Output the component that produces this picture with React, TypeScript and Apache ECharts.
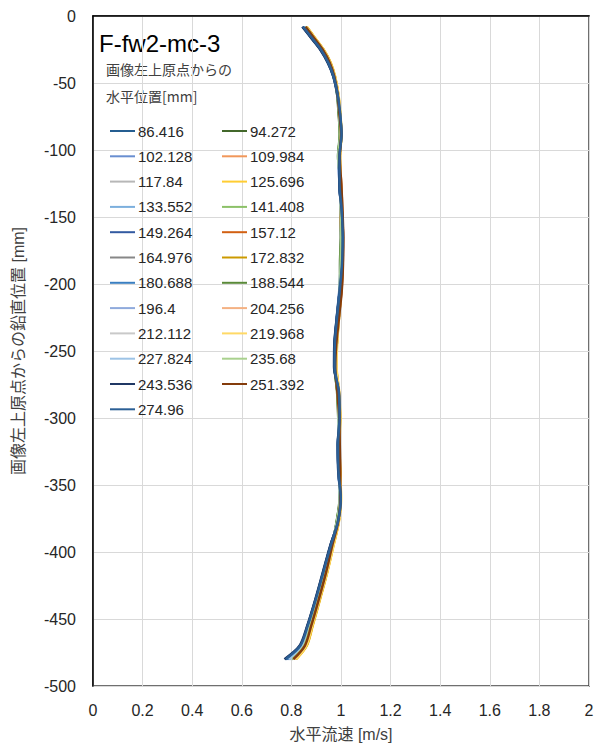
import React, { useEffect, useRef } from "react";
import * as echarts from "echarts";

const depths = [-8, -16, -25, -35, -45, -58, -72, -88, -105, -125, -145, -165, -185, -205, -225, -245, -262, -280, -300, -320, -340, -360, -378, -395, -415, -435, -455, -470, -480];

const seriesNames = ["86.416", "94.272", "102.128", "109.984", "117.84", "125.696", "133.552", "141.408", "149.264", "157.12", "164.976", "172.832", "180.688", "188.544", "196.4", "204.256", "212.112", "219.968", "227.824", "235.68", "243.536", "251.392", "274.96"];

const seriesColors = ["#255E91", "#43682B", "#698ED0", "#F1975A", "#B7B7B7", "#FFCD33", "#7CAFDD", "#8CC168", "#335AA1", "#D26012", "#878787", "#CC9A00", "#3A7FC1", "#5A8A39", "#8FAADC", "#F4B183", "#C9C9C9", "#FFD966", "#9DC3E6", "#A9D18E", "#203864", "#843C0C", "#2B5F95"];

const s86 = [0.846, 0.880, 0.918, 0.948, 0.969, 0.984, 0.994, 1.001, 0.994, 0.993, 1.003, 1.008, 1.005, 0.994, 0.983, 0.974, 0.973, 0.991, 0.994, 0.987, 0.990, 0.999, 0.987, 0.958, 0.928, 0.898, 0.865, 0.835, 0.775];
const s94 = [0.856, 0.888, 0.925, 0.954, 0.973, 0.984, 0.990, 0.995, 0.988, 0.999, 0.998, 0.999, 0.996, 0.997, 0.991, 0.983, 0.975, 0.984, 0.989, 0.993, 0.994, 0.994, 0.982, 0.964, 0.939, 0.909, 0.877, 0.852, 0.802];
const s102 = [0.849, 0.883, 0.920, 0.951, 0.973, 0.988, 0.996, 1.000, 0.989, 0.994, 1.002, 1.005, 0.999, 0.993, 0.983, 0.978, 0.980, 0.990, 0.993, 0.988, 0.989, 0.998, 0.985, 0.960, 0.932, 0.902, 0.870, 0.840, 0.786];
const s109 = [0.860, 0.892, 0.928, 0.957, 0.975, 0.988, 0.995, 1.001, 0.996, 0.998, 0.998, 1.002, 1.006, 1.001, 0.991, 0.983, 0.981, 0.991, 0.996, 0.992, 0.996, 0.999, 0.990, 0.968, 0.943, 0.914, 0.884, 0.860, 0.815];
const s117 = [0.853, 0.886, 0.923, 0.952, 0.972, 0.986, 0.992, 0.997, 0.992, 0.995, 1.000, 1.003, 1.002, 0.998, 0.988, 0.980, 0.978, 0.987, 0.990, 0.991, 0.992, 0.995, 0.985, 0.964, 0.936, 0.906, 0.874, 0.848, 0.798];
const s125 = [0.862, 0.894, 0.930, 0.959, 0.976, 0.989, 0.997, 1.002, 0.996, 0.999, 1.001, 1.002, 1.001, 1.000, 0.992, 0.984, 0.982, 0.992, 0.997, 0.994, 0.997, 1.000, 0.991, 0.970, 0.945, 0.916, 0.886, 0.862, 0.820];
const s133 = [0.851, 0.884, 0.921, 0.951, 0.971, 0.985, 0.993, 0.998, 0.991, 0.996, 1.000, 1.003, 1.001, 0.996, 0.986, 0.978, 0.977, 0.988, 0.991, 0.990, 0.991, 0.996, 0.984, 0.962, 0.934, 0.904, 0.872, 0.845, 0.792];
const s141 = [0.855, 0.887, 0.924, 0.954, 0.974, 0.986, 0.992, 0.996, 0.989, 0.998, 1.001, 1.001, 0.998, 0.995, 0.988, 0.981, 0.975, 0.985, 0.991, 0.992, 0.994, 0.996, 0.983, 0.964, 0.938, 0.908, 0.876, 0.851, 0.801];
const s149 = [0.845, 0.879, 0.917, 0.949, 0.970, 0.986, 0.995, 1.001, 0.993, 0.993, 1.002, 1.007, 1.004, 0.995, 0.984, 0.975, 0.974, 0.990, 0.993, 0.988, 0.990, 0.998, 0.986, 0.958, 0.929, 0.899, 0.866, 0.837, 0.779];
const s157 = [0.857, 0.890, 0.926, 0.955, 0.973, 0.986, 0.993, 1.000, 0.994, 1.001, 1.005, 1.008, 1.007, 1.002, 0.991, 0.981, 0.977, 0.986, 0.993, 0.994, 0.996, 0.997, 0.988, 0.966, 0.940, 0.910, 0.879, 0.854, 0.808];
const s164 = [0.852, 0.885, 0.922, 0.952, 0.972, 0.986, 0.993, 0.998, 0.991, 0.996, 1.000, 1.003, 1.001, 0.997, 0.987, 0.979, 0.977, 0.988, 0.991, 0.990, 0.992, 0.996, 0.984, 0.962, 0.935, 0.905, 0.873, 0.846, 0.795];
const s172 = [0.861, 0.893, 0.929, 0.958, 0.975, 0.988, 0.996, 1.001, 0.995, 0.998, 1.000, 1.003, 1.003, 0.999, 0.990, 0.983, 0.981, 0.991, 0.996, 0.993, 0.996, 0.999, 0.990, 0.969, 0.944, 0.915, 0.885, 0.861, 0.817];
const s180 = [0.848, 0.882, 0.919, 0.950, 0.971, 0.986, 0.995, 1.000, 0.993, 0.994, 1.002, 1.006, 1.003, 0.995, 0.984, 0.975, 0.975, 0.990, 0.993, 0.988, 0.990, 0.998, 0.986, 0.960, 0.931, 0.901, 0.868, 0.839, 0.783];
const s188 = [0.855, 0.888, 0.924, 0.954, 0.973, 0.985, 0.991, 0.996, 0.989, 0.998, 1.000, 1.001, 0.997, 0.996, 0.989, 0.982, 0.975, 0.985, 0.990, 0.992, 0.994, 0.995, 0.982, 0.964, 0.939, 0.909, 0.877, 0.852, 0.803];
const s196 = [0.850, 0.883, 0.920, 0.950, 0.972, 0.987, 0.994, 0.999, 0.990, 0.994, 1.001, 1.005, 1.000, 0.995, 0.985, 0.977, 0.978, 0.989, 0.992, 0.989, 0.990, 0.997, 0.985, 0.961, 0.933, 0.903, 0.871, 0.842, 0.788];
const s204 = [0.858, 0.891, 0.927, 0.956, 0.975, 0.988, 0.995, 1.001, 0.995, 0.999, 1.003, 1.005, 1.004, 1.000, 0.991, 0.983, 0.981, 0.991, 0.994, 0.993, 0.995, 0.999, 0.989, 0.967, 0.942, 0.912, 0.881, 0.857, 0.811];
const s212 = [0.853, 0.886, 0.922, 0.952, 0.972, 0.986, 0.993, 0.998, 0.992, 0.996, 1.000, 1.003, 1.002, 0.997, 0.988, 0.979, 0.978, 0.988, 0.991, 0.991, 0.992, 0.996, 0.985, 0.963, 0.936, 0.906, 0.874, 0.847, 0.797];
const s219 = [0.860, 0.893, 0.929, 0.957, 0.976, 0.989, 0.996, 1.002, 0.996, 0.999, 1.001, 1.003, 1.002, 1.000, 0.992, 0.984, 0.982, 0.992, 0.995, 0.994, 0.996, 1.000, 0.990, 0.970, 0.944, 0.914, 0.884, 0.860, 0.818];
const s227 = [0.850, 0.883, 0.920, 0.951, 0.972, 0.986, 0.993, 0.998, 0.991, 0.996, 1.000, 1.003, 1.001, 0.996, 0.986, 0.978, 0.977, 0.988, 0.991, 0.990, 0.991, 0.996, 0.984, 0.961, 0.933, 0.903, 0.871, 0.844, 0.791];
const s235 = [0.856, 0.888, 0.925, 0.954, 0.973, 0.986, 0.993, 0.997, 0.990, 0.998, 1.000, 1.001, 0.999, 0.996, 0.989, 0.981, 0.977, 0.986, 0.991, 0.992, 0.994, 0.996, 0.984, 0.964, 0.938, 0.908, 0.876, 0.851, 0.804];
const s243 = [0.844, 0.878, 0.916, 0.947, 0.969, 0.985, 0.995, 1.002, 0.994, 0.993, 1.003, 1.008, 1.006, 0.995, 0.983, 0.973, 0.972, 0.991, 0.994, 0.987, 0.989, 0.999, 0.987, 0.957, 0.927, 0.897, 0.864, 0.833, 0.772];
const s251 = [0.857, 0.890, 0.926, 0.955, 0.973, 0.986, 0.993, 1.000, 0.995, 1.001, 1.006, 1.009, 1.008, 1.003, 0.992, 0.981, 0.977, 0.985, 0.993, 0.995, 0.997, 0.997, 0.988, 0.965, 0.940, 0.911, 0.880, 0.854, 0.808];
const s274 = [0.847, 0.881, 0.919, 0.949, 0.970, 0.986, 0.996, 1.002, 0.994, 0.994, 1.003, 1.007, 1.004, 0.995, 0.984, 0.975, 0.974, 0.991, 0.994, 0.988, 0.990, 0.999, 0.987, 0.959, 0.929, 0.899, 0.866, 0.836, 0.777];

const seriesValues = [s86, s94, s102, s109, s117, s125, s133, s141, s149, s157, s164, s172, s180, s188, s196, s204, s212, s219, s227, s235, s243, s251, s274];

const xTicks = ["0", "0.2", "0.4", "0.6", "0.8", "1", "1.2", "1.4", "1.6", "1.8", "2"];

const titleText = "F-fw2-mc-3";
const subtitleLines = ["画像左上原点からの", "水平位置[mm]"];
const xAxisName = "水平流速 [m/s]";
const yAxisName = "画像左上原点からの鉛直位置 [mm]";

const FONT = "'Liberation Sans', 'Noto Sans CJK JP', sans-serif";

export default function App() {
  const ref = useRef<HTMLDivElement>(null);

  useEffect(() => {
    if (!ref.current) return;
    const chart = echarts.init(ref.current, undefined, { renderer: "svg" });

    const series = seriesNames.map((name, i) => ({
      name,
      type: "line" as const,
      data: seriesValues[i].map((v, j) => [v, depths[j]]),
      symbol: "none",
      showSymbol: false,
      smooth: 0.3,
      lineStyle: { width: 2.5, color: seriesColors[i] },
      itemStyle: { color: seriesColors[i] },
      z: 2 + i * 0.01,
    }));

    const legendCommon = {
      orient: "vertical" as const,
      top: 122,
      icon: "rect",
      itemWidth: 25,
      itemHeight: 2,
      itemGap: 7.3,
      padding: 0,
      textStyle: { fontFamily: FONT, fontSize: 15, color: "#262626", lineHeight: 18, padding: [0, 0, 0, -2] },
    };

    chart.setOption({
      animation: false,
      textStyle: { fontFamily: FONT },
      grid: {
        left: 93,
        top: 16,
        right: 6,
        bottom: 60,
        show: true,
        borderColor: "#404040",
        borderWidth: 1.5,
        containLabel: false,
        outerBoundsMode: "none",
      },
      legend: [
        { ...legendCommon, left: 110, data: seriesNames.filter((_, i) => i % 2 === 0) },
        { ...legendCommon, left: 222, data: seriesNames.filter((_, i) => i % 2 === 1) },
      ],
      xAxis: {
        type: "value",
        min: 0,
        max: 2,
        interval: 0.2,
        name: xAxisName,
        nameLocation: "middle",
        nameGap: 40,
        nameTextStyle: { fontFamily: FONT, fontSize: 16, color: "#404040" },
        axisLine: { show: true, lineStyle: { color: "#000", width: 1.5 } },
        axisTick: { show: false },
        axisLabel: {
          fontFamily: FONT,
          fontSize: 16,
          color: "#262626",
          margin: 16,
          formatter: (v: number) => {
            const idx = Math.round(v / 0.2);
            return xTicks[idx] ?? String(v);
          },
        },
        splitLine: { show: true, lineStyle: { color: "#d9d9d9", width: 1 } },
      },
      yAxis: {
        type: "value",
        min: -500,
        max: 0,
        interval: 50,
        name: yAxisName,
        nameLocation: "middle",
        nameGap: 67,
        nameTextStyle: { fontFamily: FONT, fontSize: 16, color: "#404040" },
        axisLine: { show: true, lineStyle: { color: "#000", width: 1.5 } },
        axisTick: { show: false },
        axisLabel: { fontFamily: FONT, fontSize: 16, color: "#262626", margin: 17 },
        splitLine: { show: true, lineStyle: { color: "#d9d9d9", width: 1 } },
      },
      graphic: [
        {
          type: "text",
          left: 99,
          top: 31,
          style: { text: titleText, fontFamily: FONT, fontSize: 24, fill: "#000" },
        },
        {
          type: "text",
          left: 106,
          top: 62,
          style: { text: subtitleLines[0], fontFamily: "'Noto Sans CJK JP', sans-serif", fontSize: 14, fill: "#404040" },
        },
        {
          type: "text",
          left: 106,
          top: 89,
          style: { text: subtitleLines[1], fontFamily: "'Noto Sans CJK JP', sans-serif", fontSize: 14, fill: "#404040" },
        },
      ],
      series,
    });

    return () => chart.dispose();
  }, []);

  return <div ref={ref} style={{ width: 595, height: 746, position: "absolute", left: 0, top: 0, background: "#fff" }} />;
}
